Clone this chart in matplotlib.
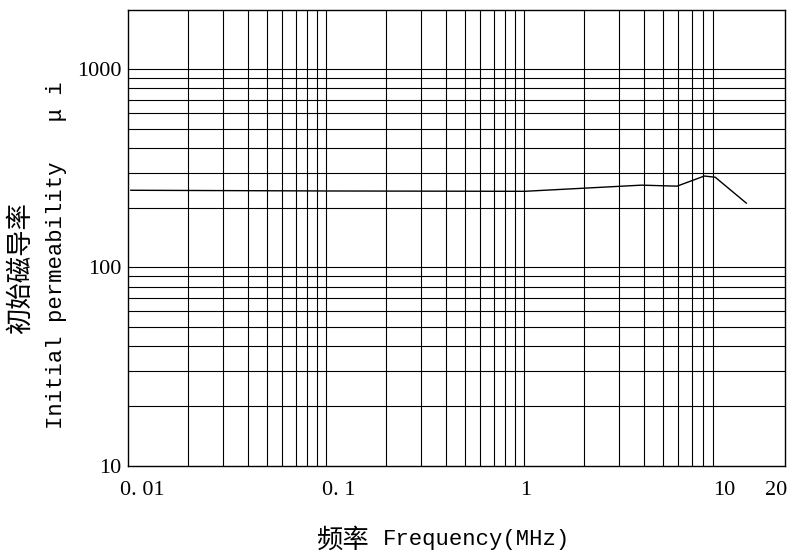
import matplotlib
matplotlib.use('Agg')
import matplotlib.pyplot as plt
from matplotlib.transforms import ScaledTranslation

# ── Data ─────────────────────────────────────────────────────────
freq_mhz = [0.0103, 0.1, 1.0, 3.9, 5.9, 8.1, 9.2, 13.2]
mu_i     = [245, 243, 242, 260, 257, 289, 285, 211]

x_ticks       = [0.01, 0.1, 1, 10, 20]
x_tick_labels = ['0. 01', '0. 1', '1', '10', '20']
y_ticks       = [10, 100, 1000]
y_tick_labels = ['10', '100', '1000']

# grid lines as drawn on the original sheet (no line at 10 / 20 MHz)
x_grid = [0.02, 0.03, 0.04, 0.05, 0.06, 0.07, 0.08, 0.09, 0.1,
          0.2, 0.3, 0.4, 0.5, 0.6, 0.7, 0.8, 0.9, 1,
          2, 3, 4, 5, 6, 7, 8, 9]
y_grid = [20, 30, 40, 50, 60, 70, 80, 90, 100,
          200, 300, 400, 500, 600, 700, 800, 900, 1000]

SERIF = ['Liberation Serif', 'DejaVu Serif']
MONO  = ['Liberation Mono', 'DejaVu Sans Mono']
CJK   = ['Noto Sans CJK SC', 'DejaVu Sans']

# ── Figure ───────────────────────────────────────────────────────
fig = plt.figure(figsize=(7.87, 5.59), dpi=100)
ax = fig.add_axes([0.163, 0.167, 0.835, 0.816])

ax.set_xscale('log')
ax.set_yscale('log')
ax.set_xlim(0.01, 20.8)
ax.set_ylim(10, 2000)

# keep minor grid lines that fall on 0.1, 1, 100, 1000
ax.xaxis.remove_overlapping_locs = False
ax.yaxis.remove_overlapping_locs = False

ax.set_xticks(x_ticks)
ax.set_xticklabels(x_tick_labels, family=SERIF, fontsize=16)
ax.set_yticks(y_ticks)
ax.set_yticklabels(y_tick_labels, family=SERIF, fontsize=16)
ax.set_xticks(x_grid, minor=True)
ax.set_yticks(y_grid, minor=True)
ax.set_xticklabels([], minor=True)
ax.set_yticklabels([], minor=True)
ax.tick_params(which='both', length=0)
ax.tick_params(axis='x', pad=11)
ax.tick_params(axis='y', pad=5)

ax.grid(False, which='major')
ax.grid(True, which='minor', color='black', linewidth=0.8)

for sp in ax.spines.values():
    sp.set_color('black')
    sp.set_linewidth(1.0)

# small shifts so the decimal labels sit like the original
shifts = [10, 9, 1, 1, -4]
for lbl, dx in zip(ax.get_xticklabels(), shifts):
    lbl.set_transform(lbl.get_transform() + ScaledTranslation(dx / 72, 0, fig.dpi_scale_trans))

ax.plot(freq_mhz, mu_i, color='black', linewidth=1.0, zorder=5)

# ── Axis titles ──────────────────────────────────────────────────
fig.text(0.026, 0.52, '初始磁导率', rotation=90, ha='center', va='center',
         family=CJK, fontsize=19)
fig.text(0.072, 0.544, 'Initial permeability   μ i', rotation=90,
         ha='center', va='center', family=MONO, fontsize=16)

fig.text(0.468, 0.034, '频率', ha='right', va='center', family=CJK, fontsize=19)
fig.text(0.486, 0.034, 'Frequency(MHz)', ha='left', va='center', family=MONO, fontsize=16)

plt.savefig('out.png', dpi=100, facecolor='white')
plt.close()
